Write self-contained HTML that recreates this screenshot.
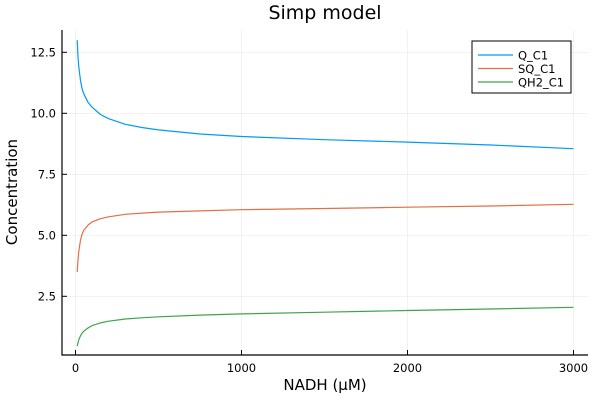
<!DOCTYPE html>
<html><head><meta charset="utf-8"><style>body{margin:0;background:#fff}svg{display:block;font-family:"DejaVu Sans","Liberation Sans",sans-serif}</style></head>
<body>
<svg id="chart" width="600" height="400" viewBox="0 0 600 400" xmlns="http://www.w3.org/2000/svg">
<rect width="600" height="400" fill="#fff"/>
<g id="grid"></g>
<g id="axes"></g>
<g id="series"></g>
<text x="325" y="19" text-anchor="middle" font-size="19" fill="#000">Simp model</text>
<text x="325" y="390" text-anchor="middle" font-size="15" fill="#000">NADH (μM)</text>
<text transform="translate(17,192) rotate(-90)" text-anchor="middle" font-size="15" fill="#000">Concentration</text>
<g id="legend">
<rect x="472" y="41" width="99" height="52" fill="#fff" stroke="#000" stroke-width="1"/>
</g>
</svg>
<script>
const xValues=[10,15,20,30,40,50,75,100,150,200,300,400,500,750,1000,1500,2000,2500,3000];
const qValues=[13.0,12.3,11.9,11.35,11.0,10.8,10.45,10.25,9.95,9.78,9.55,9.42,9.32,9.15,9.05,8.92,8.82,8.7,8.55];
const sqValues=[3.5,4.0,4.35,4.8,5.05,5.2,5.42,5.55,5.68,5.76,5.86,5.91,5.95,6.0,6.05,6.1,6.15,6.2,6.27];
const qh2Values=[0.45,0.6,0.72,0.88,0.99,1.07,1.2,1.3,1.41,1.48,1.57,1.62,1.66,1.73,1.78,1.85,1.92,1.98,2.05];
const xTicks=[0,1000,2000,3000];
const yTicks=[2.5,5.0,7.5,10.0,12.5];
const seriesNames=["Q_C1","SQ_C1","QH2_C1"];
const colors=["#009af9","#e26f46","#3da44d"];
const NS="http://www.w3.org/2000/svg";
const L=62,R=588,T=30,B=355;
const sx=v=>75.5+v*0.166;
const sy=v=>113.3-(v-10)*24.4;
function mk(tag,attrs,parent){const e=document.createElementNS(NS,tag);for(const k in attrs)e.setAttribute(k,attrs[k]);parent.appendChild(e);return e;}
const grid=document.getElementById('grid'),axes=document.getElementById('axes'),series=document.getElementById('series'),legend=document.getElementById('legend');
xTicks.forEach(t=>{
 const g=mk('line',{x1:sx(t),x2:sx(t),y1:T,y2:B,stroke:'#000','stroke-opacity':0.1,'stroke-width':0.5},grid);
 
 
 const tk=mk('line',{x1:sx(t),x2:sx(t),y1:B,y2:B-5,stroke:'#000','stroke-width':1},axes);
 
 
 const lb=mk('text',{x:sx(t),y:B+17,'text-anchor':'middle','font-size':11.5,fill:'#000'},axes);
 lb.textContent=String(t);
 
 
});
yTicks.forEach(t=>{
 const g=mk('line',{x1:L,x2:R,y1:sy(t),y2:sy(t),stroke:'#000','stroke-opacity':0.1,'stroke-width':0.5},grid);
 
 
 const tk=mk('line',{x1:L,x2:L+5,y1:sy(t),y2:sy(t),stroke:'#000','stroke-width':1},axes);
 
 
 const lb=mk('text',{x:L-6,y:sy(t)+4,'text-anchor':'end','font-size':11.5,fill:'#000'},axes);
 lb.textContent=t.toFixed(1);
 
 
});
const ax=mk('path',{d:`M${L},${T}V${B}H${R}`,fill:'none',stroke:'#000','stroke-width':1.2},axes);


[qValues,sqValues,qh2Values].forEach((vals,i)=>{
 const d=vals.map((v,j)=>(j?'L':'M')+sx(xValues[j]).toFixed(1)+','+sy(v).toFixed(1)).join('');
 const p=mk('path',{d:d,fill:'none',stroke:colors[i],'stroke-width':1.2,'stroke-linejoin':'round'},series);
 
 
 const y=55+i*13.5;
 const ll=mk('line',{x1:478,x2:513,y1:y,y2:y,stroke:colors[i],'stroke-width':1.2},legend);
 
 
 const lt=mk('text',{x:518,y:y+4.5,'font-size':11.5,fill:'#000'},legend);
 lt.textContent=seriesNames[i];
 
 
});
</script>
</body></html>
